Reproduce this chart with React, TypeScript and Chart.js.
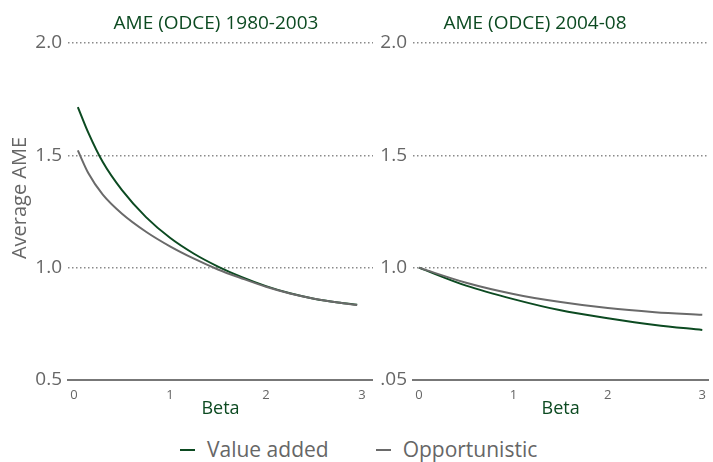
import React, { useEffect, useRef } from 'react';
import { Chart, registerables } from 'chart.js';

Chart.register(...registerables);

const FONT = '"Open Sans", "Noto Sans", sans-serif';
const GREEN = '#0c4a21';
const GRAY_LINE = '#6a6a6a';
const TEXT_GRAY = '#666666';
const GRID_GRAY = '#8a8a8a';

// ---- data ----
const SERIES_NAMES = ['Value added', 'Opportunistic'];
const SERIES_COLORS = [GREEN, GRAY_LINE];
const PANEL_TITLES = ['AME (ODCE) 1980-2003', 'AME (ODCE) 2004-08'];
const X_TITLE = 'Beta';
const Y_TITLE = 'Average AME';
const X_TICKS = [0, 1, 2, 3];
const Y_TICK_VALUES = [0.5, 1.0, 1.5, 2.0];
const Y_TICK_LABELS_LEFT = ['0.5', '1.0', '1.5', '2.0'];
const Y_TICK_LABELS_RIGHT = ['.05', '1.0', '1.5', '2.0'];

const BETA_LEFT = [0.04, 0.15, 0.3, 0.5, 0.75, 1.0, 1.25, 1.5, 1.75, 2.0, 2.25, 2.5, 2.75, 2.95];
const VALUE_ADDED_LEFT = [1.715, 1.6, 1.47, 1.345, 1.225, 1.133, 1.062, 1.005, 0.958, 0.918, 0.886, 0.862, 0.845, 0.835];
const OPPORTUNISTIC_LEFT = [1.522, 1.42, 1.325, 1.24, 1.16, 1.095, 1.04, 0.992, 0.952, 0.915, 0.885, 0.862, 0.845, 0.834];

const BETA_RIGHT = [0, 0.5, 1.0, 1.5, 2.0, 2.5, 3.0];
const VALUE_ADDED_RIGHT = [1.0, 0.92, 0.86, 0.81, 0.775, 0.745, 0.723];
const OPPORTUNISTIC_RIGHT = [1.0, 0.933, 0.883, 0.847, 0.82, 0.802, 0.79];

const panelTextPlugin = {
  id: 'panelText',
  afterDraw(chart: any, _args: any, opts: any) {
    const { ctx } = chart;
    ctx.save();
    ctx.textAlign = 'center';
    ctx.textBaseline = 'middle';
    ctx.font = `${opts.titleSize}px ${FONT}`;
    ctx.fillStyle = opts.titleColor;
    ctx.fillText(opts.title, opts.titleX, opts.titleY);
    if (opts.yTitle) {
      ctx.translate(opts.yTitleX, opts.yTitleY);
      ctx.rotate(-Math.PI / 2);
      ctx.font = `${opts.yTitleSize}px ${FONT}`;
      ctx.fillStyle = opts.yTitleColor;
      ctx.fillText(opts.yTitle, 0, 0);
    }
    ctx.restore();
  },
};

type PanelProps = {
  left: number;
  width: number;
  height: number;
  beta: number[];
  valueAdded: number[];
  opportunistic: number[];
  title: string;
  titleX: number;
  yLabels: string[];
  yTitle: string;
  yAxisWidth: number;
  xMin: number;
  xMax: number;
};

function Panel(p: PanelProps) {
  const ref = useRef<HTMLCanvasElement | null>(null);
  useEffect(() => {
    if (!ref.current) return;
    const seriesData = [p.valueAdded, p.opportunistic];
    const chart = new Chart(ref.current, {
      type: 'line',
      data: {
        datasets: SERIES_NAMES.map((name, k) => ({
          label: name,
          data: p.beta.map((b, i) => ({ x: b, y: seriesData[k][i] })),
          borderColor: SERIES_COLORS[k],
          backgroundColor: SERIES_COLORS[k],
          borderWidth: 2,
          pointRadius: 0,
          fill: false,
          cubicInterpolationMode: 'monotone',
          order: k === 0 ? 1 : 0,
        })),
      },
      options: {
        animation: false,
        responsive: false,
        maintainAspectRatio: false,
        layout: { padding: { top: 43, right: 0, left: 0, bottom: 0 } },
        plugins: {
          legend: { display: false },
          tooltip: { enabled: false },
          title: { display: false },
          panelText: {
            title: p.title,
            titleX: p.titleX,
            titleY: 24,
            titleSize: 19,
            titleColor: GREEN,
            yTitle: p.yTitle,
            yTitleX: 20,
            yTitleY: 198,
            yTitleSize: 20,
            yTitleColor: TEXT_GRAY,
          },
        } as any,
        scales: {
          x: {
            type: 'linear',
            min: p.xMin,
            max: p.xMax,
            afterBuildTicks: (s: any) => {
              s.ticks = X_TICKS.map((v) => ({ value: v }));
            },
            afterFit: (s: any) => {
              s.height = 40;
            },
            grid: { display: false, drawTicks: false },
            border: { display: true, color: '#777777', width: 2 },
            ticks: {
              color: TEXT_GRAY,
              font: { family: FONT, size: 13 },
              padding: 7,
              maxRotation: 0,
              autoSkip: false,
              callback: (v: any) => String(v),
            },
            title: {
              display: true,
              text: X_TITLE,
              color: GREEN,
              font: { family: FONT, size: 18 },
              padding: { top: 0, bottom: 0 },
            },
          },
          y: {
            type: 'linear',
            min: 0.5,
            max: 2.0,
            afterBuildTicks: (s: any) => {
              s.ticks = Y_TICK_VALUES.map((v) => ({ value: v }));
            },
            afterFit: (s: any) => {
              s.width = p.yAxisWidth;
            },
            grid: { color: GRID_GRAY, lineWidth: 1.5, drawTicks: false },
            border: { display: false, dash: [1.5, 2.5] },
            ticks: {
              color: TEXT_GRAY,
              font: { family: FONT, size: 19 },
              padding: 6,
              autoSkip: false,
              callback: (_v: any, i: number) => p.yLabels[i],
            },
            title: { display: false },
          },
        },
      } as any,
      plugins: [panelTextPlugin],
    });
    return () => chart.destroy();
  }, []);
  return (
    <canvas
      ref={ref}
      width={p.width}
      height={p.height}
      style={{ position: 'absolute', left: p.left, top: 0, width: p.width, height: p.height }}
    />
  );
}

export default function App() {
  return (
    <div style={{ position: 'absolute', left: 0, top: 0, width: 713, height: 462, background: '#fff', overflow: 'hidden' }}>
      <Panel
        left={0}
        width={373}
        height={420}
        beta={BETA_LEFT}
        valueAdded={VALUE_ADDED_LEFT}
        opportunistic={OPPORTUNISTIC_LEFT}
        title={PANEL_TITLES[0]}
        titleX={216}
        yLabels={Y_TICK_LABELS_LEFT}
        yTitle={Y_TITLE}
        yAxisWidth={68}
        xMin={-0.0625}
        xMax={3.115}
      />
      <Panel
        left={373}
        width={340}
        height={420}
        beta={BETA_RIGHT}
        valueAdded={VALUE_ADDED_RIGHT}
        opportunistic={OPPORTUNISTIC_RIGHT}
        title={PANEL_TITLES[1]}
        titleX={162}
        yLabels={Y_TICK_LABELS_RIGHT}
        yTitle={''}
        yAxisWidth={40}
        xMin={-0.0625}
        xMax={3.0625}
      />
      <div
        style={{
          position: 'absolute',
          left: 180,
          top: 435,
          display: 'flex',
          alignItems: 'center',
          fontFamily: FONT,
          fontSize: 21,
          color: TEXT_GRAY,
          whiteSpace: 'nowrap',
          lineHeight: '29px',
        }}
      >
        {SERIES_NAMES.map((name, k) => (
          <div key={name} style={{ display: 'flex', alignItems: 'center', marginRight: k === 0 ? 47 : 0 }}>
            <span style={{ display: 'inline-block', width: 15, height: 2, background: SERIES_COLORS[k], marginRight: 12 }} />
            <span>{name}</span>
          </div>
        ))}
      </div>
    </div>
  );
}
